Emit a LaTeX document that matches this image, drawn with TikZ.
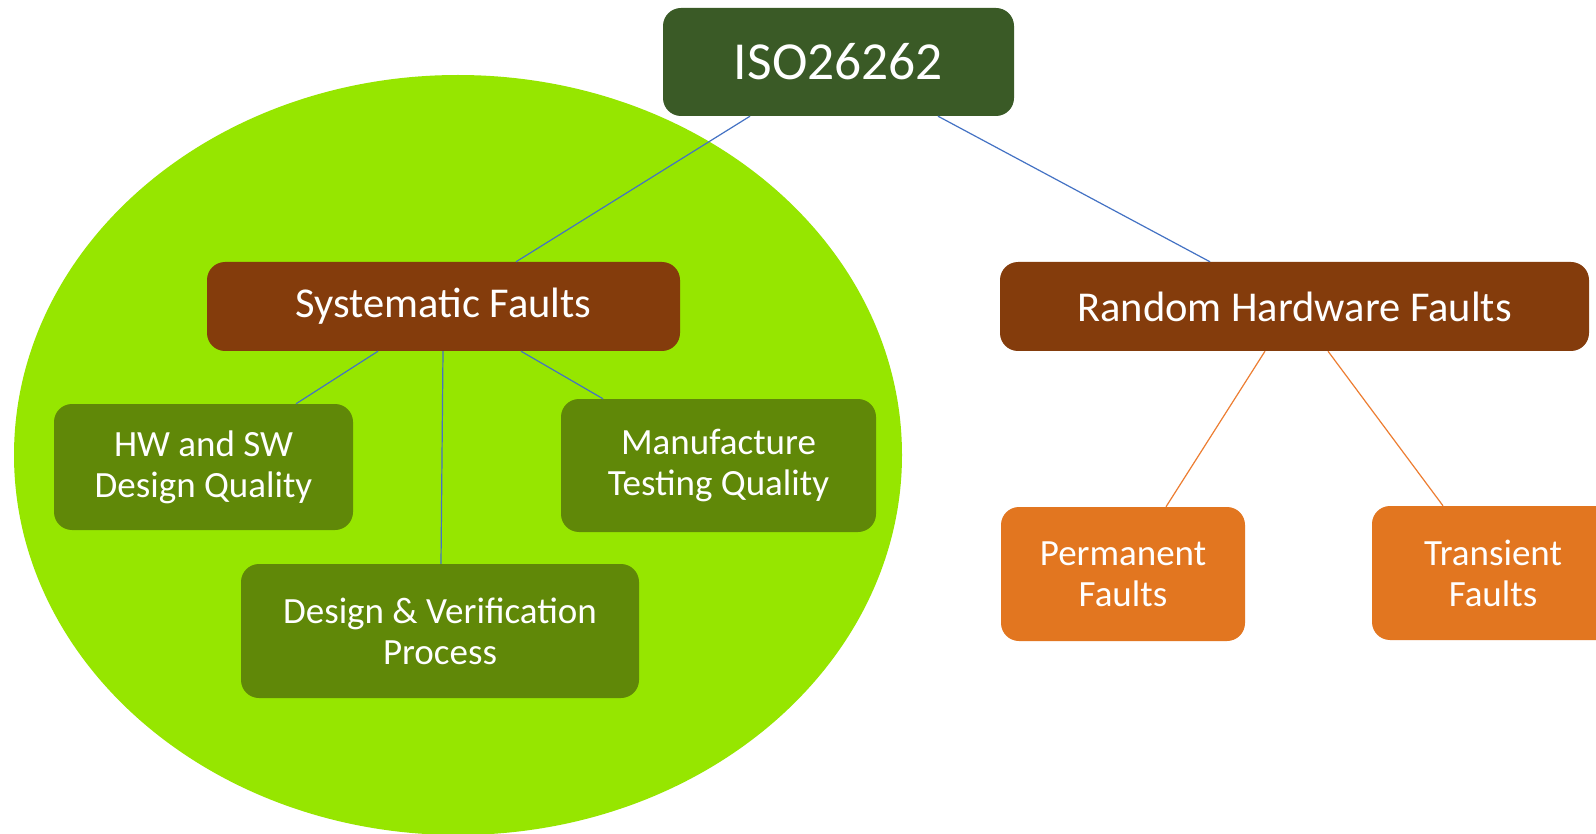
\documentclass[tikz,border=0pt]{standalone}
\usepackage{fontspec}
\setmainfont{Carlito}
\definecolor{isogreen}{RGB}{58,90,38}
\definecolor{brownbox}{RGB}{132,60,12}
\definecolor{subgreen}{RGB}{96,136,8}
\definecolor{ellgreen}{RGB}{150,230,0}
\definecolor{orangebox}{RGB}{226,118,32}
\definecolor{linkblue}{RGB}{68,114,196}
\definecolor{linkorange}{RGB}{237,125,49}
\begin{document}
\begin{tikzpicture}[x=1pt,y=-1pt,
  box/.style={rectangle,rounded corners=18pt,text=white,align=center,inner sep=0pt,font=\fontsize{37}{41}\selectfont},
  isobox/.style={box,fill=isogreen,font=\fontsize{53.5}{58}\selectfont},
  catbox/.style={box,fill=brownbox,font=\fontsize{42.5}{46}\selectfont},
  subbox/.style={box,fill=subgreen},
  orbox/.style={box,fill=orangebox},
  bluelink/.style={draw=linkblue,line width=1.2pt},
  orlink/.style={draw=linkorange,line width=1.2pt}]
\useasboundingbox (0,0) rectangle (1596,834);
\clip (0,0) rectangle (1596,834);
\fill[white] (0,0) rectangle (1596,834);
\fill[ellgreen] (458,455) ellipse [x radius=444, y radius=380];
\node[isobox,minimum width=351pt,minimum height=108pt] (iso) at (838.5,62) {ISO26262};
\node[catbox,minimum width=473pt,minimum height=89pt] (sys) at (443.5,306.5) {Systematic Faults};
\node[catbox,minimum width=589pt,minimum height=89pt] (rnd) at (1294.5,306.5) {Random Hardware Faults};
\node[subbox,minimum width=299pt,minimum height=126pt] (hw) at (203.5,467) {HW and SW\\Design Quality};
\node[subbox,minimum width=315pt,minimum height=133pt] (man) at (718.5,465.5) {Manufacture\\Testing Quality};
\node[subbox,minimum width=398pt,minimum height=134pt] (dv) at (440,631) {Design \& Verification\\Process};
\node[orbox,minimum width=244pt,minimum height=134pt] (perm) at (1123,574) {Permanent\\Faults};
\node[orbox,minimum width=242pt,minimum height=134pt] (tran) at (1493,573) {Transient\\Faults};
\draw[bluelink] ([xshift=-88.5pt]iso.south) -- ([xshift=72.5pt]sys.north);
\draw[bluelink] ([xshift=99.5pt]iso.south) -- ([xshift=-84.5pt]rnd.north);
\draw[bluelink] ([xshift=-65.5pt]sys.south) -- ([xshift=92.5pt]hw.north);
\draw[bluelink] ([xshift=-0.5pt]sys.south) -- ([xshift=1pt]dv.north);
\draw[bluelink] ([xshift=77.5pt]sys.south) -- ([xshift=-115.5pt]man.north);
\draw[orlink] ([xshift=-29.5pt]rnd.south) -- ([xshift=43pt]perm.north);
\draw[orlink] ([xshift=33.5pt]rnd.south) -- ([xshift=-50pt]tran.north);
\end{tikzpicture}
\end{document}
